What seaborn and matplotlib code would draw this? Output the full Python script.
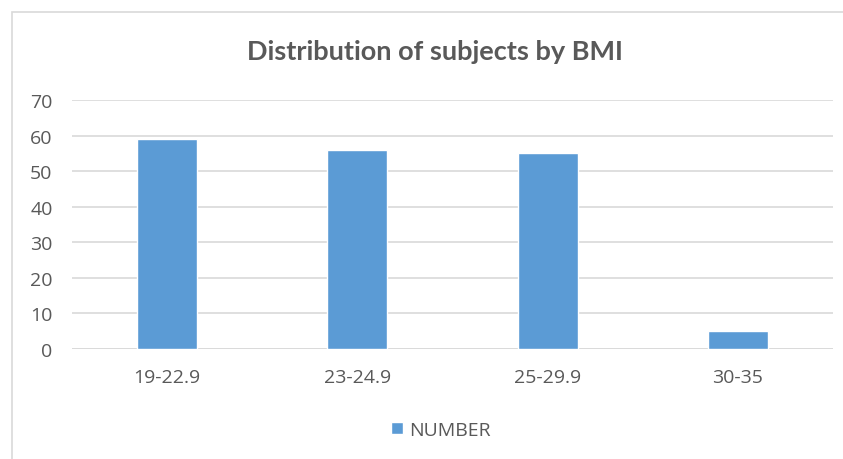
import matplotlib
matplotlib.use("Agg")
import matplotlib.pyplot as plt
import seaborn as sns
import pandas as pd
from matplotlib.patches import Rectangle

# BMI groups and subject counts
categories = ["19-22.9", "23-24.9", "25-29.9", "30-35"]
counts = [59, 56, 55, 5]
series_name = "NUMBER"
y_ticks = [0, 10, 20, 30, 40, 50, 60, 70]

df = pd.DataFrame({"BMI": categories, "count": counts, "series": series_name})

sns.set_theme(style="white")
plt.rcParams["font.family"] = ["Open Sans", "DejaVu Sans"]

text_color = "#595959"
grid_color = "#D9D9D9"
bar_color = "#5B9BD5"

fig = plt.figure(figsize=(8.43, 4.60), dpi=100)
fig.patch.set_facecolor("white")

# chart frame
fig.patches.append(Rectangle((12 / 843, -0.1), 1.2, 1 - 13 / 460 + 0.1,
                             transform=fig.transFigure, fill=False,
                             edgecolor=grid_color, linewidth=1.2))

ax = fig.add_axes([72 / 843, 1 - 350 / 460, (833 - 72) / 843, (350 - 101) / 460])
sns.barplot(data=df, x="BMI", y="count", hue="series", palette=[bar_color],
            saturation=1, width=0.316, ax=ax, zorder=3, legend=False)

ax.set_xlim(-0.5, 3.5)
ax.set_ylim(0, 70)
ax.set_yticks(y_ticks)
ax.yaxis.grid(True, color=grid_color, linewidth=1.2, zorder=0)
ax.set_axisbelow(True)
for s in ax.spines.values():
    s.set_visible(False)
ax.set_xlabel("")
ax.set_ylabel("")
ax.tick_params(axis="both", length=0, labelsize=14, labelcolor=text_color)
ax.tick_params(axis="x", pad=14)
ax.tick_params(axis="y", pad=14)
ax.axhline(0, color=grid_color, linewidth=1.2, zorder=1)

fig.text(435 / 843, 1 - 52 / 460, "Distribution of subjects by BMI",
         ha="center", va="center", fontsize=19.5, fontweight="bold",
         color=text_color, family=["Lato", "DejaVu Sans"])

handle = Rectangle((0, 0), 1, 1, facecolor=bar_color)
fig.legend([handle], [series_name], loc="center", bbox_to_anchor=(441 / 843, 1 - 431 / 460),
           frameon=False, fontsize=14, labelcolor=text_color, handlelength=0.6,
           handleheight=0.6, handletextpad=0.3)

fig.savefig("out.png", dpi=100)
